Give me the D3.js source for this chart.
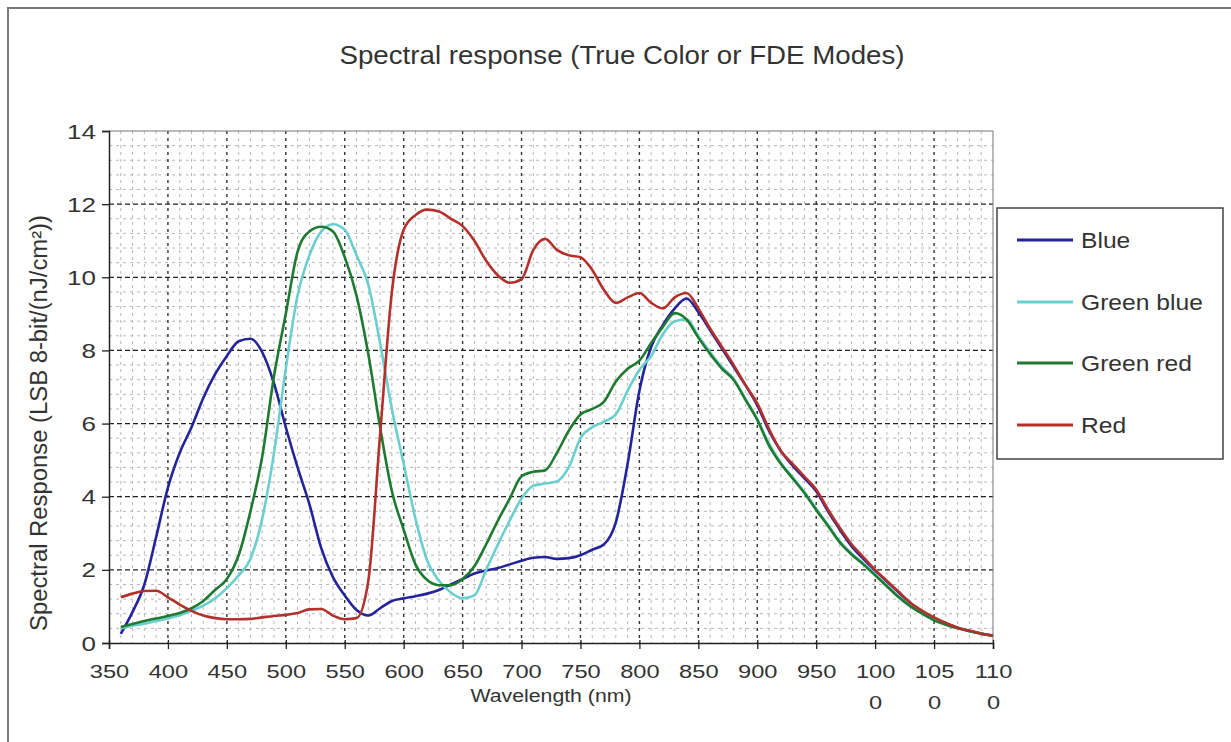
<!DOCTYPE html>
<html>
<head>
<meta charset="utf-8">
<script src="https://cdnjs.cloudflare.com/ajax/libs/d3/7.8.5/d3.min.js"></script>
<style>
  html, body { margin: 0; padding: 0; background: #fff; }
  svg { display: block; }
</style>
</head>
<body>
<svg id="chart" width="1231" height="742"></svg>
<script>
// ---------------- DATA ----------------
const chartTitle = "Spectral response (True Color or FDE Modes)";
const xTitle = "Wavelength (nm)";
const yTitle = "Spectral Response (LSB 8-bit/(nJ/cm\u00B2))";

const wavelengths = [
  360,370,380,390,400,410,420,430,440,450,460,470,480,490,500,510,520,530,540,550,
  560,570,580,590,600,610,620,630,640,650,660,670,680,690,700,710,720,730,740,750,
  760,770,780,790,800,810,820,830,840,850,860,870,880,890,900,910,920,930,940,950,
  960,970,980,990,1000,1010,1020,1030,1040,1050,1060,1070,1080,1090,1100
];

const blue = [
  0.25,0.85,1.6,2.9,4.25,5.2,5.9,6.7,7.35,7.85,8.25,8.32,7.95,7.1,5.9,4.8,3.8,2.6,1.8,1.3,
  0.9,0.75,0.95,1.15,1.22,1.28,1.35,1.45,1.6,1.75,1.9,1.98,2.05,2.15,2.25,2.33,2.35,2.3,2.32,2.4,
  2.55,2.7,3.3,4.9,6.9,8.1,8.7,9.15,9.42,9.05,8.55,8.05,7.55,7.05,6.5,5.8,5.25,4.85,4.5,4.15,
  3.6,3.1,2.65,2.3,1.98,1.68,1.38,1.08,0.86,0.68,0.54,0.42,0.33,0.26,0.2
];

const greenBlue = [
  0.4,0.47,0.53,0.6,0.67,0.76,0.88,1.02,1.22,1.5,1.85,2.3,3.4,5.2,7.5,9.5,10.6,11.25,11.45,11.3,
  10.6,9.8,8.2,6.4,4.9,3.4,2.25,1.7,1.38,1.22,1.3,2.0,2.7,3.35,3.95,4.3,4.36,4.42,4.8,5.6,
  5.9,6.05,6.25,6.9,7.47,7.85,8.45,8.8,8.85,8.4,7.95,7.55,7.22,6.68,6.12,5.45,4.93,4.53,4.13,3.67,
  3.23,2.78,2.45,2.18,1.88,1.57,1.27,1.02,0.82,0.64,0.51,0.41,0.33,0.26,0.2
];

const greenRed = [
  0.44,0.52,0.6,0.67,0.74,0.82,0.95,1.15,1.45,1.75,2.4,3.6,5.1,7.3,9.0,10.7,11.25,11.38,11.25,10.55,
  9.5,7.9,5.9,4.15,3.1,2.15,1.72,1.58,1.58,1.75,2.1,2.7,3.35,3.95,4.56,4.68,4.72,5.2,5.8,6.25,
  6.4,6.6,7.15,7.5,7.72,8.2,8.65,9.02,8.85,8.35,7.9,7.5,7.19,6.65,6.1,5.4,4.9,4.5,4.1,3.64,
  3.2,2.75,2.42,2.15,1.85,1.55,1.25,1.0,0.8,0.62,0.5,0.4,0.32,0.25,0.2
];

const red = [
  1.25,1.35,1.42,1.43,1.25,1.05,0.88,0.75,0.68,0.65,0.65,0.66,0.7,0.74,0.77,0.82,0.92,0.93,0.75,0.65,
  0.68,1.7,5.7,9.6,11.3,11.7,11.85,11.8,11.6,11.4,11.0,10.45,10.05,9.85,9.95,10.75,11.05,10.75,10.6,10.55,
  10.2,9.65,9.3,9.45,9.57,9.3,9.15,9.45,9.57,9.15,8.6,8.1,7.6,7.05,6.55,5.85,5.25,4.9,4.55,4.2,
  3.65,3.15,2.7,2.35,2.0,1.7,1.4,1.1,0.88,0.7,0.55,0.42,0.34,0.26,0.2
];

const seriesNames = ["Blue", "Green blue", "Green red", "Red"];
const seriesColors = ["#23239c", "#6ccfcf", "#1e7a30", "#b3302c"];
const seriesValues = [blue, greenBlue, greenRed, red];

const xTickValues = [350,400,450,500,550,600,650,700,750,800,850,900,950,1000,1050,1100];
const xTickLabels = ["350","400","450","500","550","600","650","700","750","800","850","900","950","1000","1050","1100"];
const yTickValues = [0,2,4,6,8,10,12,14];
const yTickLabels = ["0","2","4","6","8","10","12","14"];

// ---------------- LAYOUT ----------------
const svg = d3.select("#chart");
const plot = { left: 109, right: 993, top: 131, bottom: 643 };
const x = d3.scaleLinear().domain([350, 1100]).range([plot.left, plot.right]);
const y = d3.scaleLinear().domain([0, 14]).range([plot.bottom, plot.top]);
const fontMain = "'Liberation Sans', Arial, Helvetica, sans-serif";
const textColor = "#333";

// outer frame
svg.append("rect").attr("x", 0).attr("y", 0).attr("width", 1231).attr("height", 742).attr("fill", "#fff");
svg.append("rect").attr("x", 8).attr("y", 8).attr("width", 1260).attr("height", 780)
  .attr("fill", "none").attr("stroke", "#7a7a7a").attr("stroke-width", 2);

// title
svg.append("text").attr("x", 622).attr("y", 64)
  .attr("text-anchor", "middle")
  .attr("font-family", "'Liberation Sans Narrow', 'Arial Narrow', 'Liberation Sans', Arial, sans-serif")
  .attr("font-size", 26).attr("fill", textColor)
  .attr("textLength", 565).attr("lengthAdjust", "spacingAndGlyphs")
  .text(chartTitle);

// grid
const grid = svg.append("g");
const minorX = d3.range(360, 1100, 10).filter(v => v % 50 !== 0);
const minorY = d3.range(0.4, 14, 0.4).filter(v => Math.abs(v / 2 - Math.round(v / 2)) > 0.01);
grid.selectAll(".mx").data(minorX).enter().append("line")
  .attr("x1", d => x(d)).attr("x2", d => x(d)).attr("y1", plot.top).attr("y2", plot.bottom)
  .attr("stroke", "#b8b8b8").attr("stroke-width", 1).attr("stroke-dasharray", "3,4");
grid.selectAll(".my").data(minorY).enter().append("line")
  .attr("x1", plot.left).attr("x2", plot.right).attr("y1", d => y(d)).attr("y2", d => y(d))
  .attr("stroke", "#b8b8b8").attr("stroke-width", 1).attr("stroke-dasharray", "3,4");
grid.selectAll(".MX").data(xTickValues.slice(1, -1)).enter().append("line")
  .attr("x1", d => x(d)).attr("x2", d => x(d)).attr("y1", plot.top).attr("y2", plot.bottom)
  .attr("stroke", "#333").attr("stroke-width", 1.4).attr("stroke-dasharray", "3,4");
grid.selectAll(".MY").data(yTickValues.slice(1, -1)).enter().append("line")
  .attr("x1", plot.left).attr("x2", plot.right).attr("y1", d => y(d)).attr("y2", d => y(d))
  .attr("stroke", "#222").attr("stroke-width", 1.2).attr("stroke-dasharray", "5,3");
// plot frame top/right
svg.append("line").attr("x1", plot.left).attr("x2", plot.right).attr("y1", plot.top).attr("y2", plot.top)
  .attr("stroke", "#777").attr("stroke-width", 1);
svg.append("line").attr("x1", plot.right).attr("x2", plot.right).attr("y1", plot.top).attr("y2", plot.bottom)
  .attr("stroke", "#777").attr("stroke-width", 1);

// axes
const xAxis = d3.axisBottom(x).tickValues(xTickValues).tickSize(6).tickFormat("");
const gx = svg.append("g").attr("transform", `translate(0,${plot.bottom})`).call(xAxis);
gx.select(".domain").attr("stroke", "#222").attr("stroke-width", 1.5);
gx.selectAll(".tick line").attr("stroke", "#222").attr("stroke-width", 1.3).attr("y1", -3);
gx.selectAll(".tick").each(function(d, i) {
  const lab = xTickLabels[i];
  const t = d3.select(this).append("g").attr("transform", "translate(0,35) scale(1.28,1)")
    .append("text")
    .attr("fill", textColor).attr("font-family", fontMain).attr("font-size", 18.5)
    .attr("text-anchor", "middle");
  if (lab.length > 3) {
    t.append("tspan").attr("x", 0).text(lab.slice(0, 3));
    t.append("tspan").attr("x", 0).attr("dy", 31).text(lab.slice(3));
  } else {
    t.text(lab);
  }
});

const yAxis = d3.axisLeft(y).tickValues(yTickValues).tickSize(7).tickFormat("");
const gy = svg.append("g").attr("transform", `translate(${plot.left},0)`).call(yAxis);
gy.select(".domain").attr("stroke", "#222").attr("stroke-width", 1.5);
gy.selectAll(".tick line").attr("stroke", "#222").attr("stroke-width", 1.3);
gy.selectAll(".tick").each(function(d, i) {
  d3.select(this).append("g").attr("transform", "translate(-13,7) scale(1.3,1)")
    .append("text").attr("fill", textColor).attr("font-family", fontMain).attr("font-size", 20)
    .attr("text-anchor", "end").text(yTickLabels[i]);
});

// axis titles
svg.append("g").attr("transform", `translate(${(plot.left + plot.right) / 2},702) scale(1.15,1)`)
  .append("text").attr("text-anchor", "middle").attr("font-family", fontMain).attr("font-size", 18.5)
  .attr("fill", textColor).text(xTitle);
svg.append("text").attr("transform", `translate(47,${(plot.top + plot.bottom) / 2 + 36}) rotate(-90)`)
  .attr("text-anchor", "middle").attr("font-family", fontMain).attr("font-size", 23).attr("fill", textColor)
  .attr("textLength", 416).attr("lengthAdjust", "spacingAndGlyphs")
  .text(yTitle);

// series
const line = d3.line().curve(d3.curveMonotoneX)
  .x((d, i) => x(wavelengths[i])).y(d => y(d));
const gLines = svg.append("g");
seriesValues.forEach((vals, k) => {
  gLines.append("path").datum(vals)
    .attr("d", line).attr("fill", "none")
    .attr("stroke", seriesColors[k]).attr("stroke-width", 2.6)
    .attr("stroke-linejoin", "round");
});

// legend
const lg = svg.append("g");
lg.append("rect").attr("x", 997).attr("y", 208).attr("width", 226).attr("height", 251)
  .attr("fill", "#fff").attr("stroke", "#444").attr("stroke-width", 1.5);
const legY = [240, 302, 363, 425];
seriesNames.forEach((name, k) => {
  lg.append("line").attr("x1", 1017).attr("x2", 1073).attr("y1", legY[k]).attr("y2", legY[k])
    .attr("stroke", seriesColors[k]).attr("stroke-width", 3);
  lg.append("g").attr("transform", `translate(1081,${legY[k] + 8}) scale(1.12,1)`)
    .append("text").attr("font-family", fontMain).attr("font-size", 22).attr("fill", textColor).text(name);
});
</script>
</body>
</html>
